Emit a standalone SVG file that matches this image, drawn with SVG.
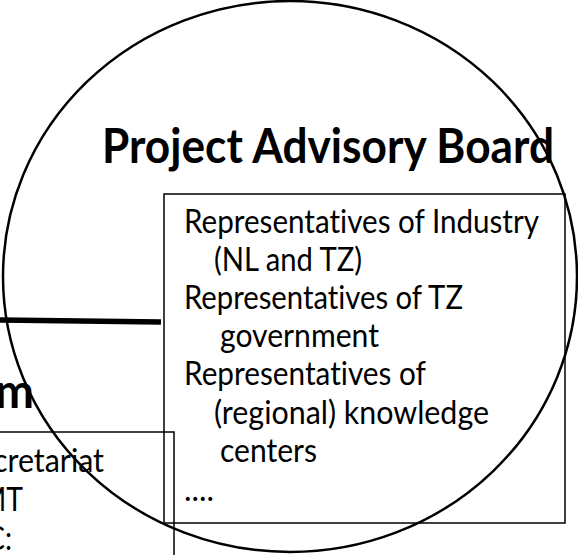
<svg xmlns="http://www.w3.org/2000/svg" width="578" height="555" viewBox="0 0 578 555">
<style>
  .bg { fill: #ffffff; }
  .ring { fill: none; stroke: #000; stroke-width: 2.5; }
  .box { fill: none; stroke: #000; stroke-width: 1.5; }
  .link { fill: none; stroke: #000; stroke-width: 5.5; }
  text { font-variant-ligatures: none; font-feature-settings: "liga" 0, "clig" 0; }
  .title { font-family: Lato, "Liberation Sans", sans-serif; font-weight: bold; font-size: 48px; fill: #000; }
  .body { font-family: Lato, "Liberation Sans", sans-serif; font-size: 32px; fill: #000; }
</style>
<rect class="bg" x="0" y="0" width="578" height="555"/>
<g id="project-team">
  <rect class="box" x="-10" y="432" width="184" height="160"/>
  <text class="title" x="34" y="408" text-anchor="end" textLength="39" lengthAdjust="spacingAndGlyphs">m</text>
  <text class="body" x="104" y="472" text-anchor="end" textLength="111" lengthAdjust="spacingAndGlyphs">cretariat</text>
  <text class="body" x="23" y="511" text-anchor="end" textLength="43" lengthAdjust="spacingAndGlyphs">MT</text>
  <text class="body" x="12" y="550" text-anchor="end" textLength="26" lengthAdjust="spacingAndGlyphs">C:</text>
</g>
<g id="connectors">
  <line class="link" x1="0" y1="320" x2="161" y2="322"/>
</g>
<g id="project-advisory-board">
  <ellipse class="ring" cx="290" cy="276.5" rx="287" ry="275.5"/>
  <rect class="box" x="164" y="194" width="401" height="329"/>
  <text class="title" x="102" y="163" textLength="452" lengthAdjust="spacingAndGlyphs">Project Advisory Board</text>
  <text class="body" x="184" y="233" textLength="355" lengthAdjust="spacingAndGlyphs">Representatives of Industry</text>
  <text class="body" x="214" y="271" textLength="148" lengthAdjust="spacingAndGlyphs">(NL and TZ)</text>
  <text class="body" x="184" y="309" textLength="279" lengthAdjust="spacingAndGlyphs">Representatives of TZ</text>
  <text class="body" x="220" y="347" textLength="159" lengthAdjust="spacingAndGlyphs">government</text>
  <text class="body" x="184" y="385" textLength="242" lengthAdjust="spacingAndGlyphs">Representatives of</text>
  <text class="body" x="214" y="424" textLength="275" lengthAdjust="spacingAndGlyphs">(regional) knowledge</text>
  <text class="body" x="220" y="462" textLength="97" lengthAdjust="spacingAndGlyphs">centers</text>
  <text class="body" x="184" y="501" textLength="30" lengthAdjust="spacingAndGlyphs">....</text>
</g>
</svg>
